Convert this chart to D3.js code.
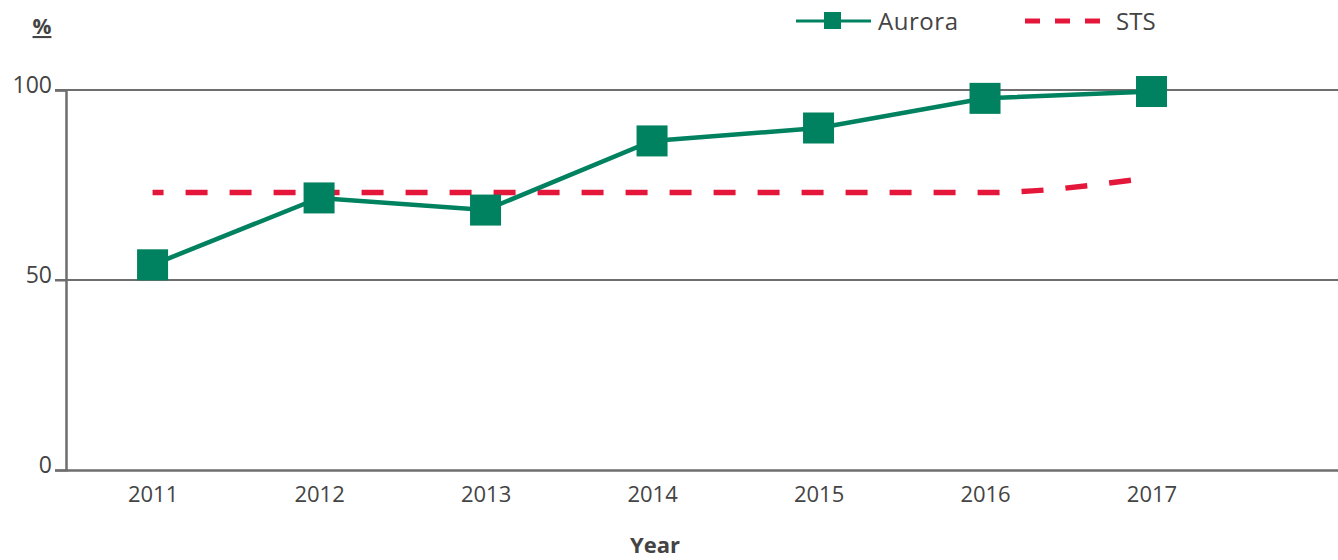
<!DOCTYPE html>
<html>
<head>
<meta charset="utf-8">
<script src="https://cdn.jsdelivr.net/npm/d3@7"></script>
<style>
  body { margin: 0; background: #fff; }
  svg { font-family: "Open Sans", "DejaVu Sans", sans-serif; }
</style>
</head>
<body>
<svg id="chart" width="1338" height="560"></svg>
<script>
// chart data
var years = [2011, 2012, 2013, 2014, 2015, 2016, 2017];
var aurora = [54, 71.6, 68.4, 86.6, 90, 97.8, 99.6];
var sts = [73, 73, 73, 73, 73, 73, 77];
var yTicks = [0, 50, 100];

var green = "#00815f";
var red = "#e4173a";
var grey = "#6e6e6e";
var textColor = "#444";

var svg = d3.select("#chart");

var x = d3.scaleLinear()
  .domain([2010.48, 2018.12])
  .range([66, 1338]);
var y = d3.scaleLinear()
  .domain([0, 100])
  .range([470, 90]);

// gridlines at 50 and 100
svg.append("g")
  .selectAll("line")
  .data(yTicks.filter(function(d) { return d > 0; }))
  .join("line")
    .attr("x1", 55)
    .attr("x2", 1338)
    .attr("y1", function(d) { return y(d); })
    .attr("y2", function(d) { return y(d); })
    .attr("stroke", grey)
    .attr("stroke-width", 2);

// y axis
var yAxis = svg.append("g")
  .attr("transform", "translate(66,0)")
  .call(d3.axisLeft(y).tickValues(yTicks).tickSize(11).tickPadding(3));
yAxis.select(".domain").attr("stroke", grey).attr("stroke-width", 2.5);
yAxis.selectAll(".tick line").attr("stroke", grey).attr("stroke-width", 2);
yAxis.selectAll(".tick text")
  .attr("fill", textColor)
  .style("font-size", "23px")
  .style("font-family", "'Open Sans', sans-serif")
  .attr("dy", "0.1em");

// x axis
var xAxis = svg.append("g")
  .attr("transform", "translate(0,470)")
  .call(d3.axisBottom(x).tickValues(years).tickFormat(d3.format("d")).tickSize(0).tickPadding(16));
xAxis.select(".domain").attr("stroke", grey).attr("stroke-width", 2.5);
xAxis.selectAll(".tick text")
  .attr("fill", textColor)
  .style("font-size", "22px")
  .style("font-family", "'Open Sans', sans-serif");

// axis titles
svg.append("text")
  .attr("x", 42)
  .attr("y", 34)
  .attr("text-anchor", "middle")
  .attr("fill", textColor)
  .style("font-size", "21px")
  .style("font-weight", "bold")
  .style("text-decoration", "underline")
  .text("%");

svg.append("text")
  .attr("x", 655)
  .attr("y", 553)
  .attr("text-anchor", "middle")
  .attr("fill", textColor)
  .style("font-size", "22px")
  .style("font-weight", "bold")
  .text("Year");

// STS dashed line
var stsLine = d3.line()
  .curve(d3.curveMonotoneX)
  .x(function(d, i) { return x(years[i]); })
  .y(function(d) { return y(d); });
svg.append("path")
  .datum(sts)
  .attr("d", stsLine)
  .attr("fill", "none")
  .attr("stroke", red)
  .attr("stroke-width", 5.5)
  .attr("stroke-dasharray", "22,22")
  .attr("stroke-dashoffset", 11);

// Aurora line and markers
var auroraLine = d3.line()
  .x(function(d, i) { return x(years[i]); })
  .y(function(d) { return y(d); });
svg.append("path")
  .datum(aurora)
  .attr("d", auroraLine)
  .attr("fill", "none")
  .attr("stroke", green)
  .attr("stroke-width", 4.5);

var ms = 31;
svg.append("g")
  .selectAll("rect")
  .data(aurora)
  .join("rect")
    .attr("x", function(d, i) { return x(years[i]) - ms / 2; })
    .attr("y", function(d) { return y(d) - ms / 2; })
    .attr("width", ms)
    .attr("height", ms)
    .attr("fill", green);

// legend
var legend = svg.append("g");
legend.append("line")
  .attr("x1", 796).attr("x2", 871)
  .attr("y1", 21).attr("y2", 21)
  .attr("stroke", green)
  .attr("stroke-width", 3);
legend.append("rect")
  .attr("x", 824).attr("y", 12)
  .attr("width", 17).attr("height", 17)
  .attr("fill", green);
legend.append("text")
  .attr("x", 878).attr("y", 30)
  .attr("fill", textColor)
  .style("font-size", "24px")
  .attr("textLength", 80)
  .text("Aurora");

legend.append("line")
  .attr("x1", 1025).attr("x2", 1100)
  .attr("y1", 21).attr("y2", 21)
  .attr("stroke", red)
  .attr("stroke-width", 5)
  .attr("stroke-dasharray", "15,15");
legend.append("text")
  .attr("x", 1116).attr("y", 30)
  .attr("fill", textColor)
  .style("font-size", "24px")
  .text("STS");
</script>
</body>
</html>
